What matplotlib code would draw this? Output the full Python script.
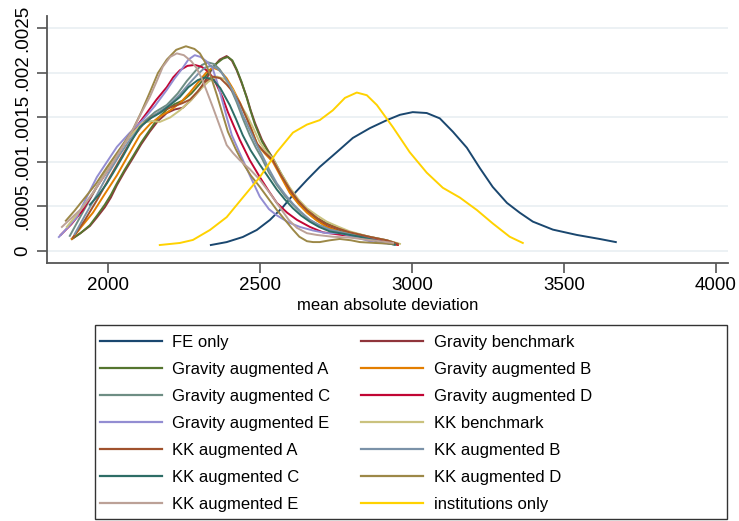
import matplotlib
matplotlib.use("Agg")
import matplotlib.pyplot as plt
from matplotlib.patches import Rectangle

plt.rcParams['font.family'] = ['Liberation Sans', 'DejaVu Sans']

# ---- data (kernel density curves) ----
labels = ["FE only", "Gravity benchmark", "Gravity augmented A", "Gravity augmented B",
          "Gravity augmented C", "Gravity augmented D", "Gravity augmented E",
          "KK benchmark", "KK augmented A", "KK augmented B", "KK augmented C",
          "KK augmented D", "KK augmented E", "institutions only"]

fe_x = [2339, 2391, 2444, 2490, 2533, 2576, 2609, 2655, 2697, 2753, 2806, 2862, 2918, 2961, 3003, 3049,
        3092, 3135, 3181, 3224, 3266, 3313, 3355, 3398, 3464, 3543, 3618, 3671]
fe_y = [0.000067, 0.0001, 0.000157, 0.000236, 0.000348, 0.000494, 0.000629, 0.000798, 0.000944, 0.00111,
        0.00127, 0.00138, 0.00147, 0.00153, 0.00156, 0.00155, 0.00149, 0.00134, 0.00116, 0.00093, 0.00072,
        0.00054, 0.00043, 0.00033, 0.00024, 0.00018, 0.000135, 0.0001]

gb_x = [1882, 1910, 1941, 1965, 1990, 2010, 2030, 2055, 2082, 2110, 2138, 2165, 2194, 2220, 2247, 2275,
        2303, 2325, 2345, 2368, 2391, 2408, 2424, 2440, 2457, 2470, 2484, 2507, 2525, 2543, 2570, 2599,
        2627, 2655, 2688, 2720, 2760, 2796, 2860, 2918, 2954]
gb_y = [0.000135, 0.0002, 0.00028, 0.00038, 0.00049, 0.0006, 0.00074, 0.00089, 0.00104, 0.0012, 0.00134,
        0.00146, 0.00155, 0.00159, 0.00161, 0.0017, 0.00181, 0.00194, 0.00206, 0.00215, 0.00219, 0.00214,
        0.00203, 0.00189, 0.00173, 0.00158, 0.00144, 0.00125, 0.00114, 0.00104, 0.00085, 0.00066, 0.00054,
        0.00044, 0.00035, 0.00028, 0.00023, 0.00019, 0.00014, 0.0001, 0.00007]

ga_x = [1882, 1910, 1941, 1965, 1990, 2010, 2030, 2055, 2082, 2110, 2138, 2165, 2194, 2220, 2247, 2275,
        2303, 2330, 2359, 2378, 2395, 2410, 2424, 2440, 2457, 2470, 2484, 2507, 2525, 2543, 2570, 2599,
        2627, 2655, 2688, 2720, 2760, 2796, 2860, 2918, 2954]
ga_y = [0.000135, 0.0002, 0.00029, 0.0004, 0.00052, 0.00063, 0.00076, 0.00091, 0.00106, 0.00122, 0.00136,
        0.00149, 0.00159, 0.00165, 0.00169, 0.00177, 0.00188, 0.002, 0.00211, 0.00216, 0.00218, 0.00214,
        0.00204, 0.0019, 0.00172, 0.00157, 0.00142, 0.00123, 0.00113, 0.00104, 0.00087, 0.0007, 0.00056,
        0.00046, 0.00037, 0.00031, 0.00025, 0.00021, 0.00016, 0.00012, 0.00008]

gbB_x = [1882, 1915, 1951, 1990, 2030, 2068, 2105, 2140, 2171, 2205, 2237, 2270, 2303, 2325, 2345, 2368,
         2391, 2412, 2434, 2450, 2467, 2480, 2493, 2518, 2543, 2570, 2599, 2627, 2655, 2688, 2720, 2760,
         2796, 2860, 2918, 2954]
gbB_y = [0.000135, 0.00028, 0.00043, 0.00064, 0.00085, 0.00108, 0.0013, 0.00143, 0.00151, 0.00158, 0.00166,
         0.00178, 0.00192, 0.00201, 0.00206, 0.00203, 0.00194, 0.00182, 0.00167, 0.00155, 0.00142, 0.0013,
         0.00119, 0.00109, 0.001, 0.00083, 0.00065, 0.00053, 0.00043, 0.00034, 0.00027, 0.00022, 0.00019,
         0.00014, 0.0001, 0.00007]

gc_x = [1875, 1920, 1964, 2000, 2039, 2075, 2115, 2155, 2194, 2230, 2260, 2290, 2310, 2329, 2350, 2368,
        2385, 2405, 2424, 2445, 2467, 2487, 2507, 2530, 2556, 2582, 2609, 2635, 2664, 2695, 2730, 2780,
        2829, 2880, 2928]
gc_y = [0.00017, 0.00045, 0.00072, 0.00093, 0.00113, 0.0013, 0.00144, 0.00156, 0.00164, 0.00177, 0.00191,
        0.00203, 0.00209, 0.00212, 0.0021, 0.00204, 0.00195, 0.00182, 0.00167, 0.00148, 0.0013, 0.00116,
        0.00104, 0.00088, 0.00074, 0.00062, 0.00052, 0.00043, 0.00035, 0.00029, 0.00024, 0.0002, 0.00016,
        0.00012, 0.00009]

gd_x = [1845, 1880, 1918, 1960, 2007, 2035, 2063, 2095, 2128, 2160, 2194, 2215, 2237, 2262, 2286, 2308,
        2329, 2345, 2359, 2378, 2395, 2415, 2434, 2467, 2500, 2530, 2556, 2590, 2622, 2665, 2707, 2770,
        2839, 2880, 2918, 2954]
gd_y = [0.00018, 0.0003, 0.00046, 0.0007, 0.00094, 0.0011, 0.00125, 0.0014, 0.00155, 0.0017, 0.00184,
        0.00195, 0.00203, 0.00208, 0.00209, 0.00207, 0.00202, 0.00195, 0.00186, 0.00172, 0.00156, 0.0014,
        0.00125, 0.00102, 0.00083, 0.00067, 0.00054, 0.00043, 0.00035, 0.00027, 0.00021, 0.00018, 0.00016,
        0.00013, 0.0001, 0.00007]

ge_x = [1839, 1870, 1898, 1930, 1964, 1997, 2030, 2070, 2115, 2155, 2194, 2220, 2245, 2265, 2286, 2305,
        2325, 2345, 2362, 2378, 2393, 2408, 2434, 2467, 2500, 2530, 2556, 2595, 2632, 2675, 2720, 2763,
        2820, 2872, 2928]
ge_y = [0.000157, 0.00027, 0.00038, 0.0006, 0.00083, 0.001, 0.00117, 0.00132, 0.00147, 0.00163, 0.00181,
        0.00194, 0.00205, 0.00215, 0.0022, 0.00218, 0.00213, 0.00205, 0.00187, 0.00167, 0.00148, 0.0013,
        0.0011, 0.00085, 0.00061, 0.00047, 0.0004, 0.00032, 0.00027, 0.00023, 0.0002, 0.0002, 0.00015,
        0.0001, 0.00008]

kb_x = [1865, 1905, 1951, 1995, 2039, 2075, 2115, 2145, 2171, 2205, 2237, 2270, 2303, 2330, 2359, 2385,
        2411, 2435, 2457, 2480, 2500, 2520, 2543, 2570, 2599, 2627, 2655, 2688, 2720, 2760, 2796, 2860,
        2918, 2961]
kb_y = [0.00027, 0.00044, 0.00065, 0.00089, 0.00113, 0.0013, 0.00144, 0.00146, 0.00145, 0.0015, 0.00158,
        0.00168, 0.00181, 0.0019, 0.00196, 0.00193, 0.00181, 0.00165, 0.00153, 0.00137, 0.00122, 0.00112,
        0.00104, 0.00087, 0.00071, 0.00058, 0.00048, 0.0004, 0.00033, 0.00027, 0.00022, 0.00016, 0.00012,
        0.00008]

ka_x = [1885, 1925, 1964, 2005, 2049, 2082, 2115, 2145, 2171, 2195, 2220, 2245, 2270, 2295, 2320, 2345,
        2370, 2391, 2411, 2435, 2457, 2475, 2490, 2515, 2543, 2570, 2599, 2627, 2655, 2688, 2720, 2760,
        2796, 2860, 2918, 2954]
ka_y = [0.00015, 0.00035, 0.00057, 0.00082, 0.00108, 0.00127, 0.00142, 0.00151, 0.00156, 0.0016, 0.00163,
        0.00166, 0.0017, 0.00179, 0.0019, 0.00196, 0.00194, 0.00187, 0.00179, 0.00166, 0.00149, 0.00134,
        0.00121, 0.00111, 0.00102, 0.00085, 0.00069, 0.00056, 0.00046, 0.00037, 0.0003, 0.00025, 0.00021,
        0.00016, 0.00012, 0.00008]

kbB_x = [1891, 1925, 1964, 2000, 2039, 2075, 2115, 2155, 2194, 2235, 2270, 2300, 2320, 2340, 2360, 2375,
         2400, 2424, 2445, 2467, 2487, 2507, 2530, 2556, 2582, 2609, 2635, 2664, 2695, 2730, 2780, 2829,
         2890, 2944]
kbB_y = [0.00019, 0.0004, 0.00063, 0.00086, 0.00108, 0.00126, 0.00142, 0.00153, 0.00162, 0.00175, 0.00189,
         0.002, 0.00206, 0.00208, 0.00205, 0.002, 0.00187, 0.0017, 0.00152, 0.00136, 0.00121, 0.00108,
         0.00092, 0.00076, 0.00064, 0.00053, 0.00044, 0.00035, 0.00029, 0.00024, 0.0002, 0.00016, 0.00011,
         0.00007]

kc_x = [1941, 1970, 1997, 2025, 2049, 2075, 2105, 2140, 2171, 2205, 2237, 2265, 2296, 2320, 2345, 2370,
        2401, 2422, 2444, 2470, 2500, 2528, 2556, 2582, 2609, 2635, 2664, 2695, 2730, 2780, 2829, 2890, 2944]
kc_y = [0.00052, 0.00063, 0.00076, 0.00092, 0.00106, 0.00122, 0.00139, 0.00149, 0.00155, 0.00164, 0.00173,
        0.00184, 0.00192, 0.00195, 0.00193, 0.00183, 0.00164, 0.00148, 0.0013, 0.00113, 0.00097, 0.00083,
        0.00069, 0.00058, 0.00048, 0.0004, 0.00033, 0.00027, 0.00022, 0.00019, 0.00016, 0.00011, 0.00007]

kd_x = [1862, 1890, 1918, 1960, 1997, 2040, 2082, 2110, 2138, 2165, 2194, 2225, 2257, 2285, 2303, 2320,
        2340, 2359, 2395, 2420, 2444, 2470, 2500, 2530, 2556, 2585, 2609, 2630, 2655, 2675, 2697, 2730,
        2763, 2800, 2829, 2880, 2938]
kd_y = [0.00034, 0.00045, 0.00057, 0.00075, 0.00094, 0.00115, 0.00136, 0.00156, 0.00178, 0.002, 0.00215,
        0.00226, 0.0023, 0.00227, 0.00222, 0.00212, 0.00195, 0.00175, 0.00134, 0.00115, 0.00099, 0.00085,
        0.00072, 0.00058, 0.00046, 0.00034, 0.00024, 0.00016, 0.00011, 0.0001, 0.0001, 0.00012, 0.000135,
        0.00012, 0.0001, 0.00009, 0.00008]

ke_x = [1849, 1880, 1918, 1960, 2007, 2045, 2082, 2110, 2138, 2160, 2181, 2205, 2227, 2250, 2275, 2293,
        2310, 2326, 2345, 2359, 2375, 2391, 2412, 2434, 2467, 2500, 2533, 2566, 2595, 2622, 2655, 2688,
        2740, 2796, 2870, 2938]
ke_y = [0.00027, 0.00037, 0.00049, 0.0007, 0.00094, 0.00115, 0.00136, 0.00155, 0.00173, 0.0019, 0.00207,
        0.00218, 0.00222, 0.0022, 0.00213, 0.00205, 0.00193, 0.00179, 0.00162, 0.00149, 0.00134, 0.00119,
        0.0011, 0.00102, 0.00092, 0.0008, 0.00065, 0.00049, 0.00035, 0.00026, 0.0002, 0.00018, 0.00016,
        0.00015, 0.00012, 0.00009]

inst_x = [2171, 2237, 2280, 2336, 2391, 2444, 2500, 2556, 2609, 2655, 2697, 2740, 2780, 2819, 2852, 2885,
          2938, 2993, 3049, 3102, 3158, 3214, 3266, 3322, 3365]
inst_y = [0.000067, 0.00009, 0.000124, 0.000236, 0.00038, 0.0006, 0.00083, 0.00111, 0.00133, 0.00142,
          0.00147, 0.00158, 0.00172, 0.00178, 0.00175, 0.00164, 0.00139, 0.00111, 0.00088, 0.00071, 0.0006,
          0.00046, 0.00031, 0.00016, 0.00009]

series_x = [fe_x, gb_x, ga_x, gbB_x, gc_x, gd_x, ge_x, kb_x, ka_x, kbB_x, kc_x, kd_x, ke_x, inst_x]
series_y = [fe_y, gb_y, ga_y, gbB_y, gc_y, gd_y, ge_y, kb_y, ka_y, kbB_y, kc_y, kd_y, ke_y, inst_y]

colors = ["#1A476F", "#90353B", "#55752F", "#E37E00", "#6E8E84", "#C10534", "#938DD2",
          "#CAC27E", "#A0522D", "#7B92A8", "#2D6D66", "#9C8847", "#BCA197", "#FFD200"]

x_ticks = [2000, 2500, 3000, 3500, 4000]
y_ticks = [0, 0.0005, 0.001, 0.0015, 0.002, 0.0025]
y_ticklabels = ["0", ".0005", ".001", ".0015", ".002", ".0025"]

# ---- figure ----
W, H = 739, 521
fig = plt.figure(figsize=(W / 100, H / 100), dpi=100)
ax = fig.add_axes([47 / W, 1 - 263 / H, (728 - 47) / W, (263 - 16) / H])

handles = []
for xs, ys, c, lab in zip(series_x, series_y, colors, labels):
    h, = ax.plot(xs, ys, color=c, lw=1.4, label=lab, solid_joinstyle='round')
    handles.append(h)

ax.set_xlim(1800, 4040)
ax.set_ylim(-0.000135, 0.00264)
ax.set_xticks(x_ticks)
ax.set_xticklabels([str(t) for t in x_ticks])
ax.set_yticks(y_ticks)
ax.set_yticklabels(y_ticklabels, rotation=90, va='center')
ax.tick_params(axis='both', labelsize=13.5, length=7, width=1.2, color='#555555', direction='out')
ax.tick_params(axis='y', pad=4)
ax.tick_params(axis='x', pad=3)
for g in y_ticks:
    ax.axhline(g, color='#EAF0F3', lw=1.3, zorder=0)
for s in ['top', 'right']:
    ax.spines[s].set_visible(False)
for s in ['left', 'bottom']:
    ax.spines[s].set_color('#555555')
    ax.spines[s].set_linewidth(1.3)
ax.set_xlabel("mean absolute deviation", fontsize=12, labelpad=3)

# legend ordered row-wise like the reference
order = [0, 2, 4, 6, 8, 10, 12, 1, 3, 5, 7, 9, 11, 13]
leg = fig.legend([handles[i] for i in order], [labels[i] for i in order], ncol=2,
                 loc='upper left', bbox_to_anchor=(100 / W, 1 - 335 / H), frameon=False,
                 fontsize=12, handlelength=3.7, handletextpad=0.65, columnspacing=1.85,
                 labelspacing=0.72, borderaxespad=0, borderpad=0)
for l in leg.get_lines():
    l.set_linewidth(1.6)
fig.patches.append(Rectangle((95 / W, 1 - 519 / H), (727 - 95) / W, (519 - 325) / H,
                             transform=fig.transFigure, fill=False, edgecolor='#333333', lw=1.0))

fig.savefig("out.png", dpi=100, facecolor='white')
